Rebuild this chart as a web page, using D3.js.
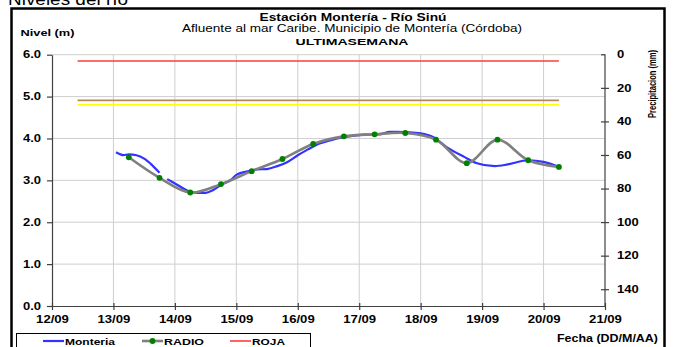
<!DOCTYPE html>
<html><head><meta charset="utf-8">
<script src="https://cdn.jsdelivr.net/npm/d3@7/dist/d3.min.js"></script>
<style>
body{margin:0;background:#fff;}
svg{display:block;font-family:"Liberation Sans",Arial,sans-serif;}
</style></head>
<body>
<svg id="chart" width="675" height="347"></svg>
<script>
// ---------- DATA ----------
const dayTicks = ["12/09","13/09","14/09","15/09","16/09","17/09","18/09","19/09","20/09","21/09"];
const levelTicks = [0,1,2,3,4,5,6];
const precipTicks = [0,20,40,60,80,100,120,140];

const radioTimes = ["13/09 06:00","13/09 18:00","14/09 06:00","14/09 18:00","15/09 06:00","15/09 18:00",
  "16/09 06:00","16/09 18:00","17/09 06:00","17/09 18:00","18/09 06:00","18/09 18:00",
  "19/09 06:00","19/09 18:00","20/09 06:00"];
const radioLevels = [3.55,3.06,2.71,2.91,3.22,3.51,3.87,4.05,4.10,4.13,3.97,3.41,3.97,3.48,3.32];

const monteriaTimes = ["13/09 01:00","13/09 04:00","13/09 06:00","13/09 09:00","13/09 12:00","13/09 15:00",
  "13/09 18:00","13/09 19:00","13/09 21:00","14/09 01:00","14/09 05:00","14/09 09:00","14/09 12:00",
  "14/09 15:00","14/09 18:00","14/09 22:00","15/09 00:00","15/09 04:00","15/09 08:00","15/09 12:00",
  "15/09 16:00","15/09 20:00","16/09 00:00","16/09 04:00","16/09 07:00","16/09 13:00","16/09 18:00",
  "17/09 02:00","17/09 08:00","17/09 12:00","17/09 15:00","17/09 18:00","18/09 00:00","18/09 05:00",
  "18/09 10:00","18/09 17:00","18/09 22:00","19/09 05:00","19/09 10:00","19/09 18:00","20/09 00:00","20/09 06:00"];
const monteriaLevels = [3.67,3.60,3.62,3.60,3.52,3.37,3.18,null,3.03,2.89,2.75,2.70,2.70,
  2.77,2.89,3.02,3.13,3.21,3.26,3.27,3.34,3.44,3.60,3.74,3.84,3.96,4.03,
  4.09,4.10,4.16,4.16,4.15,4.12,4.03,3.80,3.56,3.41,3.34,3.38,3.48,3.44,3.32];

const alertNames = ["ROJA","NARANJA","AMARILLA"];
const alertLevels = [5.85,4.91,4.81];
const alertColors = ["#ff3b3b","#b48a5c","#ffff00"];
const alertStart = "12/09 10:00";
const alertEnd = "20/09 06:00";

const legendNames = ["Monteria","RADIO","ROJA"];

// ---------- SETUP ----------
const parse = d3.timeParse("%d/%m %H:%M");
const pday = s => parse(s + " 00:00");
const svg = d3.select("#chart");
const L = 52, R = 605, T = 54.7, B = 306;

const x = d3.scaleTime().domain([pday(dayTicks[0]), pday(dayTicks[dayTicks.length-1])]).range([L, R]);
const y = d3.scaleLinear().domain([0, 6]).range([B, T]);
const yp = d3.scaleLinear().domain([0, 150]).range([54.3, B]);

function stretch(sel, k){
  sel.each(function(){
    const w = this.getComputedTextLength();
    d3.select(this).attr("textLength", w*k).attr("lengthAdjust","spacingAndGlyphs");
  });
}
function label(str, px, py, size, bold, anchor, width){
  const t = svg.append("text").attr("x",px).attr("y",py).text(str)
    .attr("font-size",size).attr("font-weight",bold?"bold":"normal")
    .attr("text-anchor",anchor||"start").attr("fill","#000");
  if(width) t.attr("textLength",width).attr("lengthAdjust","spacingAndGlyphs");
  return t;
}

// cut-off page heading
label("Niveles del río", 8, 4.5, 17, false, "start", 120);

// frame
svg.append("rect").attr("x",11.5).attr("y",8.5).attr("width",653).attr("height",360)
  .attr("fill","none").attr("stroke","#000").attr("stroke-width",2.5);

// gridlines
svg.append("g").selectAll("line").data(levelTicks.filter(d=>d>0)).join("line")
  .attr("x1",L).attr("x2",R).attr("y1",d=>y(d)).attr("y2",d=>y(d))
  .attr("stroke","#cfcfcf").attr("stroke-width",1);
svg.append("g").selectAll("line").data(dayTicks.slice(1,-1)).join("line")
  .attr("x1",d=>x(pday(d))).attr("x2",d=>x(pday(d))).attr("y1",T).attr("y2",B)
  .attr("stroke","#cfcfcf").attr("stroke-width",1);

// axes
const axStyle = g => { g.selectAll("path,line").attr("stroke","#404040").attr("stroke-width",1.2);
  g.selectAll("text").attr("font-size",9.5).attr("font-weight","bold").attr("fill","#000")
   .attr("font-family","'Liberation Sans',Arial,sans-serif"); };

const gy = svg.append("g").attr("transform",`translate(${L},0)`)
  .call(d3.axisLeft(y).tickValues(levelTicks).tickFormat(d3.format(".1f")).tickSize(5).tickSizeOuter(0).tickPadding(6))
  .call(axStyle);
gy.selectAll("text").attr("font-size",10).call(stretch,1.3);

const gx = svg.append("g").attr("transform",`translate(0,${B})`)
  .call(d3.axisBottom(x).tickValues(dayTicks.map(pday)).tickFormat(d3.timeFormat("%d/%m")).tickSize(4).tickSizeOuter(0).tickPadding(6))
  .call(axStyle);
gx.selectAll("text").attr("font-size",10.5).call(stretch,1.25);
gx.selectAll(".tick line").attr("y1",-3);

const gp = svg.append("g").attr("transform",`translate(${R},0)`)
  .call(d3.axisRight(yp).tickValues(precipTicks).tickSize(4).tickSizeOuter(0).tickPadding(8))
  .call(axStyle);
gp.selectAll(".tick line").attr("x1",-4);
gp.select(".tick line").attr("x2",0).attr("x1",-4);
gp.selectAll("text").attr("font-size",10).call(stretch,1.3);
gp.select(".domain").attr("d",`M0,${yp(0)}V${B}`);

// alert lines
svg.append("g").selectAll("line").data(alertLevels).join("line")
  .attr("x1",x(parse(alertStart))).attr("x2",x(parse(alertEnd)))
  .attr("y1",d=>y(d)).attr("y2",d=>y(d))
  .attr("stroke",(d,i)=>alertColors[i]).attr("stroke-width",1.6);

// Monteria line
const mData = monteriaTimes.map((t,i)=>({t:parse(t), v:monteriaLevels[i]}));
svg.append("path").datum(mData)
  .attr("d", d3.line().defined(d=>d.v!==null).x(d=>x(d.t)).y(d=>y(d.v)).curve(d3.curveMonotoneX))
  .attr("fill","none").attr("stroke","#3333ff").attr("stroke-width",2.2);

// RADIO line
const rData = radioTimes.map((t,i)=>({t:parse(t), v:radioLevels[i]}));
svg.append("path").datum(rData)
  .attr("d", d3.line().x(d=>x(d.t)).y(d=>y(d.v)).curve(d3.curveCatmullRom.alpha(0.5)))
  .attr("fill","none").attr("stroke","#808080").attr("stroke-width",2.6);
svg.append("g").selectAll("circle").data(rData).join("circle")
  .attr("cx",d=>x(d.t)).attr("cy",d=>y(d.v)).attr("r",2.9).attr("fill","#008000");

// titles
label("Estación Montería - Río Sinú", 353, 21, 10, true, "middle", 187);
label("Afluente al mar Caribe. Municipio de Montería (Córdoba)", 352, 31.5, 10.5, false, "middle", 340);
label("ULTIMASEMANA", 352, 44.5, 9.5, true, "middle", 113);
label("Nivel (m)", 20.5, 36, 9.5, true, "start", 54);
label("Fecha (DD/M/AA)", 658, 342, 10.5, true, "end", 101);
svg.append("text").attr("transform","translate(655.5,84) rotate(-90)").attr("text-anchor","middle")
  .attr("font-size",10.5).attr("font-weight","bold").text("Precipitacion (mm)")
  .attr("textLength",68).attr("lengthAdjust","spacingAndGlyphs");

// legend
svg.append("rect").attr("x",16.5).attr("y",333.5).attr("width",294).attr("height",20)
  .attr("fill","#fff").attr("stroke","#000").attr("stroke-width",1);
const legX = [43,142,230];
const legW = [50,40,33];
const legColors = ["#3333ff","#808080","#ff3b3b"];
legendNames.forEach((n,i)=>{
  svg.append("line").attr("x1",legX[i]).attr("x2",legX[i]+21).attr("y1",341).attr("y2",341)
    .attr("stroke",legColors[i]).attr("stroke-width",i===1?2.6:(i===0?2.2:1.6));
  if(i===1) svg.append("circle").attr("cx",legX[i]+10.5).attr("cy",341).attr("r",2.9).attr("fill","#008000");
  label(n, legX[i]+22, 345, 9.5, true, "start", legW[i]);
});
</script>
</body></html>
